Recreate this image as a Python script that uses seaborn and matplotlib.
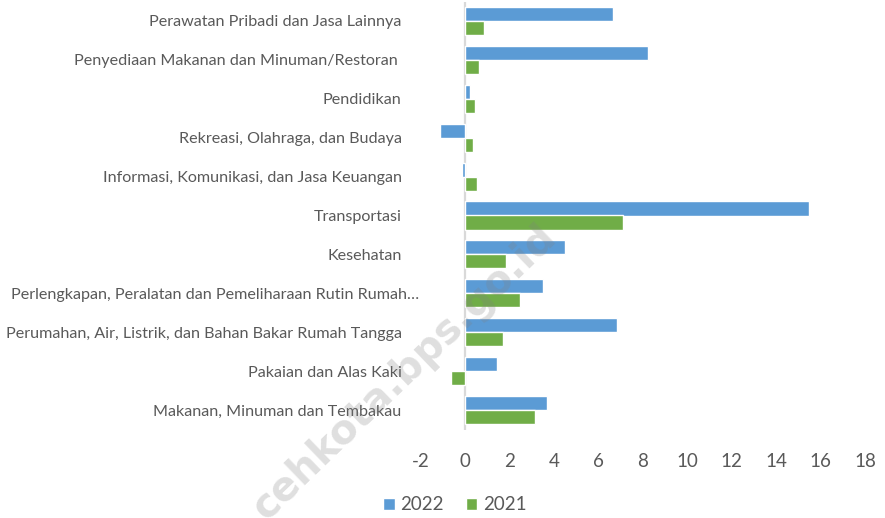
import pandas as pd
import numpy as np
import matplotlib
matplotlib.use("Agg")
import matplotlib.pyplot as plt
import matplotlib.transforms as mtransforms
import seaborn as sns

# categories, top to bottom as shown
categories = [
    "Perawatan Pribadi dan Jasa Lainnya",
    "Penyediaan Makanan dan Minuman/Restoran ",
    "Pendidikan",
    "Rekreasi, Olahraga, dan Budaya",
    "Informasi, Komunikasi, dan Jasa Keuangan",
    "Transportasi",
    "Kesehatan",
    "Perlengkapan, Peralatan dan Pemeliharaan Rutin Rumah…",
    "Perumahan, Air, Listrik, dan Bahan Bakar Rumah Tangga",
    "Pakaian dan Alas Kaki",
    "Makanan, Minuman dan Tembakau",
]
values_2022 = [6.64, 8.22, 0.20, -1.14, -0.17, 15.49, 4.50, 3.48, 6.82, 1.44, 3.67]
values_2021 = [0.83, 0.62, 0.41, 0.33, 0.50, 7.10, 1.82, 2.44, 1.69, -0.66, 3.13]
years = ["2022", "2021"]
x_ticks = list(range(-2, 19, 2))

# long form table for seaborn
df = pd.DataFrame({
    "kategori": categories * 2,
    "nilai": values_2022 + values_2021,
    "tahun": ["2022"] * len(categories) + ["2021"] * len(categories),
})

sns.set_theme(style="white")
plt.rcParams["font.family"] = ["Lato", "DejaVu Sans"]

text_color = "#595959"
fig = plt.figure(figsize=(8.85, 5.18), dpi=100)
ax = fig.add_axes([421 / 885, 1 - 429.5 / 518, 444 / 885, 428 / 518])

sns.barplot(data=df, y="kategori", x="nilai", hue="tahun", hue_order=years,
            order=categories, orient="h", palette=["#5B9BD5", "#70AD47"],
            saturation=1, width=0.72, ax=ax, legend=True)

ax.set_xlim(-2, 18)
ax.set_xticks(x_ticks)
ax.set_xticklabels([str(t) for t in x_ticks], fontsize=13.5, color=text_color)
ax.tick_params(axis="x", length=0, pad=17)
ax.tick_params(axis="y", length=0, pad=14, labelsize=11.6, labelcolor=text_color)
ax.set_xlabel("")
ax.set_ylabel("")
for s in ax.spines.values():
    s.set_visible(False)
ax.axvline(0, color="#d9d9d9", lw=1.6, zorder=0.5)

# the truncated label runs past the others on the right, as in the original
shift = mtransforms.ScaledTranslation(0.18, 0, fig.dpi_scale_trans)
for lab in ax.get_yticklabels():
    if lab.get_text().endswith("…"):
        lab.set_transform(lab.get_transform() + shift)

# legend at bottom
handles, labels = ax.get_legend_handles_labels()
ax.get_legend().remove()
fig.legend(handles, labels, loc="center", bbox_to_anchor=(455 / 885, 1 - 505 / 518),
           ncol=2, frameon=False, handlelength=0.6, handleheight=0.6,
           handletextpad=0.3, columnspacing=1.2, fontsize=13.5,
           labelcolor=text_color)

# watermark
fig.text(266 / 885, 1 - 522 / 518, "cehkota.bps.go.id", rotation=44,
         rotation_mode="anchor", ha="left", va="baseline", fontsize=29,
         fontweight="bold", color="gray", alpha=0.25,
         family=["DejaVu Sans"], zorder=10)

fig.savefig("out.png", dpi=100)
